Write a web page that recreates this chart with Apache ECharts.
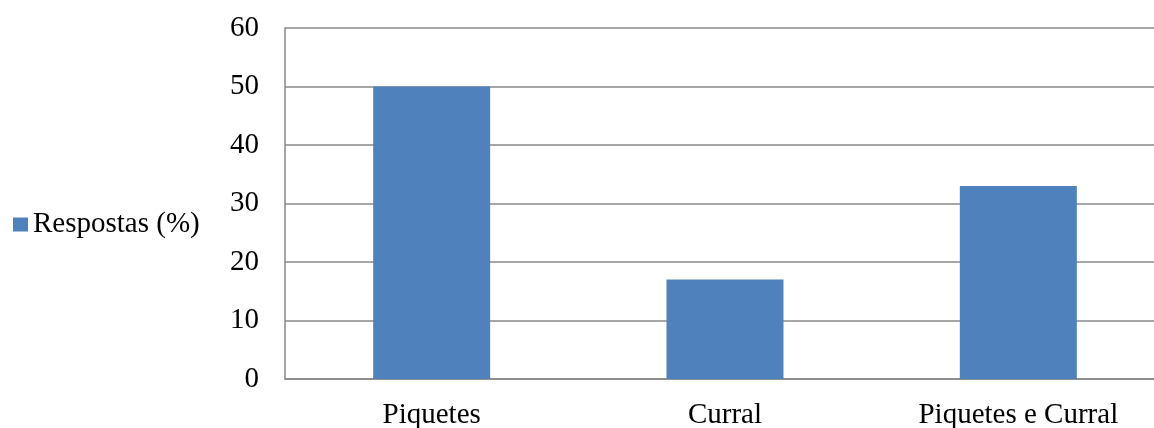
<!DOCTYPE html>
<html>
<head>
<meta charset="utf-8">
<script src="https://cdn.jsdelivr.net/npm/echarts@6/dist/echarts.min.js"></script>
<style>
  html, body { margin: 0; padding: 0; background: #fff; }
  #chart { width: 1154px; height: 428px; }
</style>
</head>
<body>
<div id="chart"></div>
<script>
// categorias e respostas (%)
var categorias = ['Piquetes', 'Curral', 'Piquetes e Curral'];
var respostas = [50, 17, 33];
var serieNome = 'Respostas (%)';

var chart = echarts.init(document.getElementById('chart'));
var option = {
    animation: false,
    textStyle: { fontFamily: 'Liberation Serif' },
    legend: {
        data: [serieNome],
        orient: 'vertical',
        left: 8,
        top: 205,
        itemWidth: 15,
        itemHeight: 14,
        itemGap: 0,
        icon: 'rect',
        textStyle: { fontSize: 29, color: '#000', fontFamily: 'Liberation Serif' }
    },
    grid: {
        left: 285,
        top: 28,
        right: -11,
        bottom: 49,
        containLabel: false,
        outerBoundsMode: 'none'
    },
    xAxis: {
        type: 'category',
        data: categorias,
        axisLine: { lineStyle: { color: '#888', width: 1.5 } },
        axisTick: { show: false },
        axisLabel: { fontSize: 29, color: '#000', margin: 22, fontFamily: 'Liberation Serif' }
    },
    yAxis: {
        type: 'value',
        min: 0,
        max: 60,
        interval: 10,
        axisLine: { show: true, lineStyle: { color: '#888', width: 1.5 } },
        axisTick: { show: false },
        splitLine: { lineStyle: { color: '#888', width: 1.5 } },
        axisLabel: { fontSize: 29, color: '#000', margin: 26, fontFamily: 'Liberation Serif' }
    },
    series: [
        {
            name: serieNome,
            type: 'bar',
            data: respostas,
            barWidth: 117,
            itemStyle: { color: '#4F81BD' }
        }
    ]
};
chart.setOption(option);
</script>
</body>
</html>
